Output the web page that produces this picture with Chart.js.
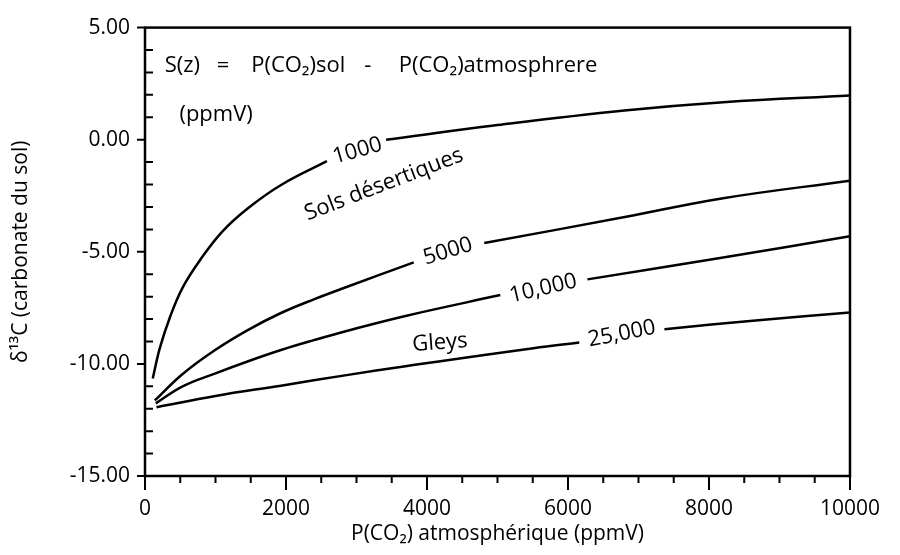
<!DOCTYPE html>
<html>
<head>
<meta charset="utf-8">
<title>d13C carbonate du sol</title>
<script src="https://cdn.jsdelivr.net/npm/chart.js@4.4.0/dist/chart.umd.min.js"></script>
<style>
  html, body { margin: 0; padding: 0; background: #fff; }
</style>
</head>
<body>
<canvas id="delta_chart" width="900" height="555"></canvas>
<script>
// tick values
var xTicks = [0, 2000, 4000, 6000, 8000, 10000];
var yTicks = [-15, -10, -5, 0, 5];

// S(z) = 1000 ppmV (null = gap where the label sits)
var s1000X = [110, 210, 350, 530, 770, 1090, 1460, 1930, 2580, 3000, 3420, 4950, 6800, 8200, 10000];
var s1000Y = [-10.65, -9.3, -7.95, -6.62, -5.42, -4.12, -3.06, -2.02, -0.96, null, 0.0, 0.63, 1.3, 1.67, 1.97];

// S(z) = 5000 ppmV
var s5000X = [139, 534, 1000, 1464, 1929, 2395, 2859, 3812, 4300, 4812, 6806, 8201, 10000];
var s5000Y = [-11.63, -10.45, -9.37, -8.48, -7.73, -7.12, -6.57, -5.47, null, -4.61, -3.45, -2.61, -1.83];

// S(z) = 10,000 ppmV
var s10000X = [153, 534, 1000, 1464, 1929, 2395, 2859, 3696, 5040, 5650, 6276, 8201, 10000];
var s10000Y = [-11.76, -11.0, -10.42, -9.88, -9.38, -8.94, -8.53, -7.86, -6.93, null, -6.23, -5.25, -4.31];

// S(z) = 25,000 ppmV (gleys)
var s25000X = [163, 1000, 1929, 2859, 3696, 4114, 5509, 6160, 6700, 7368, 8700, 10000];
var s25000Y = [-11.93, -11.43, -10.97, -10.5, -10.1, -9.92, -9.3, -9.05, null, -8.45, -8.05, -7.71];

function toPoints(xs, ys){
    return xs.map(function(v, i){ return {x: v, y: ys[i]}; });
}

var fontFam = "'Open Sans', 'DejaVu Sans', sans-serif";

// texts written inside the plot (data coordinates)
var plotTexts = [
    {text: 'S(z)', x: 279, y: 3.31, rot: 0, align: 'left'},
    {text: '=', x: 1018, y: 3.31, rot: 0, align: 'left'},
    {text: 'P(CO\u2082)sol', x: 1506, y: 3.31, rot: 0, align: 'left'},
    {text: '-', x: 3110, y: 3.31, rot: 0, align: 'left'},
    {text: 'P(CO\u2082)atmosphrere', x: 3600, y: 3.31, rot: 0, align: 'left'},
    {text: '(ppmV)', x: 488, y: 1.1, rot: 0, align: 'left'},
    {text: '1000', x: 3013, y: -0.5, rot: -16, align: 'center'},
    {text: 'Sols d\u00e9sertiques', x: 3389, y: -2.0, rot: -21, align: 'center'},
    {text: '5000', x: 4296, y: -4.98, rot: -17, align: 'center'},
    {text: '10,000', x: 5649, y: -6.64, rot: -13, align: 'center'},
    {text: 'Gleys', x: 4184, y: -9.06, rot: -4, align: 'center'},
    {text: '25,000', x: 6764, y: -8.66, rot: -11, align: 'center'}
];

var frameAndTicks = {
    id: 'frameAndTicks',
    afterDraw: function(chart){
        var ctx = chart.ctx;
        var a = chart.chartArea;
        var xs = chart.scales.x, ys = chart.scales.y;
        ctx.save();
        ctx.strokeStyle = '#000';
        ctx.lineWidth = 2.5;
        ctx.strokeRect(a.left, a.top, a.right - a.left, a.bottom - a.top);
        ctx.lineWidth = 2;
        ctx.beginPath();
        for (var v = 0; v <= 10000; v += 500){
            var px = xs.getPixelForValue(v);
            var len = (v % 2000 === 0 || v === 10000) ? 14 : 7;
            ctx.moveTo(px, a.bottom);
            ctx.lineTo(px, a.bottom + len);
        }
        for (var w = -15; w <= 5; w++){
            var py = ys.getPixelForValue(w);
            if (w % 5 === 0){
                ctx.moveTo(a.left - 8, py);
                ctx.lineTo(a.left, py);
            } else {
                ctx.moveTo(a.left, py);
                ctx.lineTo(a.left + 8, py);
            }
        }
        ctx.stroke();

        ctx.fillStyle = '#000';
        ctx.font = '22px ' + fontFam;
        ctx.textBaseline = 'middle';
        plotTexts.forEach(function(t){
            ctx.save();
            ctx.translate(xs.getPixelForValue(t.x), ys.getPixelForValue(t.y));
            ctx.rotate(t.rot * Math.PI / 180);
            ctx.textAlign = t.align;
            ctx.fillText(t.text, 0, 0);
            ctx.restore();
        });
        ctx.restore();
    }
};

function lineSet(xs, ys){
    return {
        data: toPoints(xs, ys),
        borderColor: '#000',
        borderWidth: 2.5,
        pointRadius: 0,
        fill: false,
        spanGaps: false,
        tension: 0.4
    };
}

var ctx = document.getElementById('delta_chart').getContext('2d');
var myChart = new Chart(ctx, {
    type: 'line',
    data: {
        datasets: [
            lineSet(s1000X, s1000Y),
            lineSet(s5000X, s5000Y),
            lineSet(s10000X, s10000Y),
            lineSet(s25000X, s25000Y)
        ]
    },
    plugins: [frameAndTicks],
    options: {
        responsive: false,
        animation: false,
        devicePixelRatio: 1,
        layout: { padding: { left: 0, right: 38, top: 25, bottom: 0 } },
        plugins: {
            legend: { display: false },
            tooltip: { enabled: false }
        },
        scales: {
            x: {
                type: 'linear',
                min: 0,
                max: 10000,
                afterFit: function(s){ s.height = 79; },
                afterBuildTicks: function(s){ s.ticks = xTicks.map(function(v){ return {value: v}; }); },
                grid: { display: false, drawTicks: false },
                border: { display: false },
                ticks: {
                    padding: 20,
                    maxRotation: 0,
                    color: '#000',
                    font: { family: fontFam, size: 21 },
                    callback: function(v){ return String(v); }
                },
                title: {
                    display: true,
                    text: 'P(CO\u2082) atmosph\u00e9rique (ppmV)',
                    color: '#000',
                    font: { family: fontFam, size: 21 },
                    padding: { top: 0, bottom: 8 }
                }
            },
            y: {
                min: -15,
                max: 5,
                afterFit: function(s){ s.width = 145; },
                afterBuildTicks: function(s){ s.ticks = yTicks.map(function(v){ return {value: v}; }); },
                grid: { display: false, drawTicks: false },
                border: { display: false },
                ticks: {
                    padding: 15,
                    color: '#000',
                    font: { family: fontFam, size: 21 },
                    callback: function(v){ return v.toFixed(2); }
                },
                title: {
                    display: true,
                    text: '\u03b4\u00b9\u00b3C (carbonate du sol)',
                    color: '#000',
                    font: { family: fontFam, size: 21 },
                    padding: { top: 8, bottom: 0 }
                }
            }
        }
    }
});
</script>
</body>
</html>
